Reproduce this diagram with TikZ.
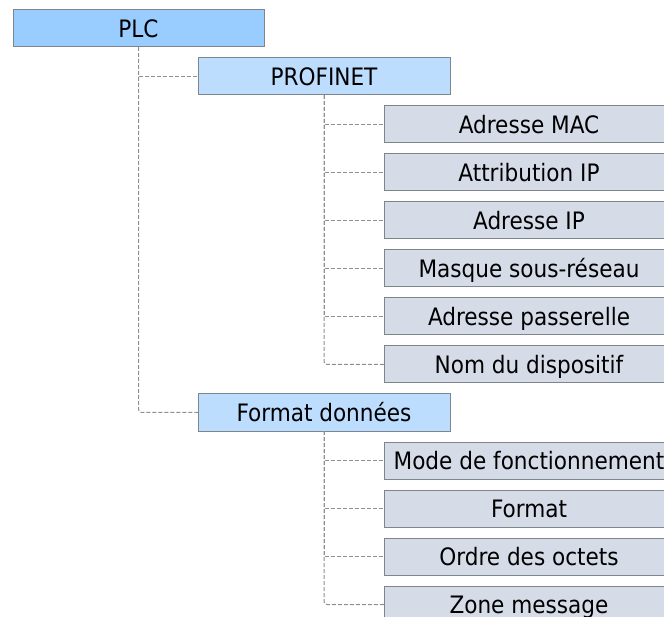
\documentclass[tikz,border=0pt]{standalone}
\usepackage{fontspec}
\setmainfont{DejaVu Sans Condensed}
\usepackage{tikz}
\usetikzlibrary{positioning}

\definecolor{rootblue}{HTML}{99CCFF}
\definecolor{groupblue}{HTML}{BDDDFF}
\definecolor{itemgray}{HTML}{D5DCE8}
\definecolor{boxline}{HTML}{7F858C}
\definecolor{linkgray}{HTML}{8F8F8F}

\begin{document}
\begin{tikzpicture}[
  x=1pt, y=-1pt,
  box/.style={draw=boxline, line width=1pt, minimum height=37pt, inner sep=0pt, outer sep=0pt,
    text height=17.5pt, text depth=0pt, font=\fontsize{24}{28}\selectfont, text=black},
  rootbox/.style={box, fill=rootblue, minimum width=251pt},
  groupbox/.style={box, fill=groupblue, minimum width=252pt},
  itembox/.style={box, fill=itemgray, minimum width=290pt, anchor=west},
  link/.style={draw=linkgray, line width=1pt, dash pattern=on 4pt off 2pt},
  node distance=11pt,
]
  \useasboundingbox (0,0) rectangle (664,617);

  % Root
  \node[rootbox] (plc) at (138.5,28.5) {PLC};

  % PROFINET branch
  \node[groupbox] (profinet) at (324,76.5) {PROFINET};
  \node[itembox] (mac) at (384,124.5) {Adresse MAC};
  \node[itembox, below=of mac] (attrib) {Attribution IP};
  \node[itembox, below=of attrib] (ip) {Adresse IP};
  \node[itembox, below=of ip] (mask) {Masque sous-réseau};
  \node[itembox, below=of mask] (gateway) {Adresse passerelle};
  \node[itembox, below=of gateway] (devname) {Nom du dispositif};

  % Format données branch
  \node[groupbox] (fmtdata) at (324,412.5) {Format données};
  \node[itembox] (mode) at (384,460.5) {Mode de fonctionnement};
  \node[itembox, below=of mode] (fmt) {Format};
  \node[itembox, below=of fmt] (order) {Ordre des octets};
  \node[itembox, below=of order] (msg) {Zone message};

  % Dashed links
  \draw[link] (plc.south) |- (profinet.west);
  \draw[link, rounded corners=3pt] (plc.south) |- (fmtdata.west);
  \foreach \c in {mac,attrib,ip,mask,gateway}
    \draw[link] (profinet.south) |- (\c.west);
  \draw[link, rounded corners=3pt] (profinet.south) |- (devname.west);
  \foreach \c in {mode,fmt,order}
    \draw[link] (fmtdata.south) |- (\c.west);
  \draw[link, rounded corners=3pt] (fmtdata.south) |- (msg.west);
\end{tikzpicture}
\end{document}
